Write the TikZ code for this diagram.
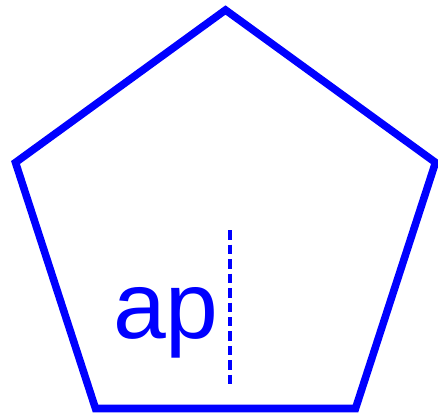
\documentclass[tikz,border=0pt]{standalone}
\usepackage{fontspec}
\setmainfont{Liberation Sans}
\usetikzlibrary{positioning}

\begin{document}
\begin{tikzpicture}[
  x=0.02cm, y=-0.02cm,
  edge/.style={draw=blue, line width=4.3pt, line join=miter},
  apo/.style={draw=blue, line width=1.8pt, dash pattern=on 0.19cm off 0.1cm},
  lbl/.style={text=blue, font=\fontsize{54}{60}\selectfont, inner sep=0pt, anchor=base}
]
\useasboundingbox (0,0) rectangle (438,417);
%% --- pentagon corners -------------------------------------------------------
\coordinate (top) at (225.5,10);
\coordinate (ur)  at (435.5,162.5);
\coordinate (lr)  at (355.5,408.5);
\coordinate (ll)  at (95.5,408.5);
\coordinate (ul)  at (15.5,162.5);
\draw[edge] (top) -- (ur) -- (lr) -- (ll) -- (ul) -- cycle;
%% --- apothem ----------------------------------------------------------------
\coordinate (ctr)  at (230,230);
\coordinate (foot) at (230,389);
\draw[apo] (ctr) -- (foot);
\node[lbl] (ap) at (166,338) {ap};
\end{tikzpicture}
\end{document}
